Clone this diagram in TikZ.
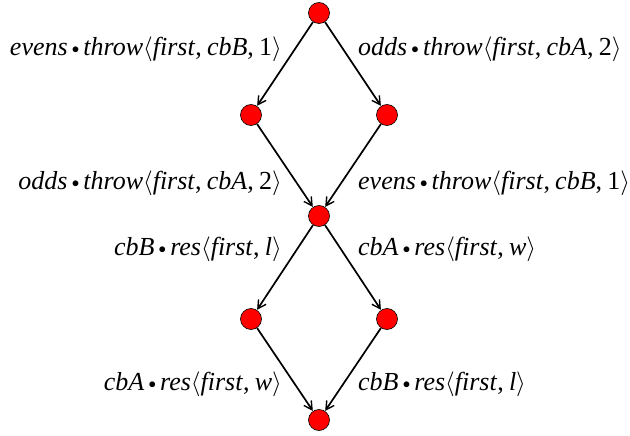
\documentclass[tikz,border=0pt]{standalone}
\usepackage{fontspec}
\setmainfont{Liberation Serif}
\usetikzlibrary{arrows.meta}
\newcommand{\lbl}[1]{\textit{#1}}
\newcommand{\dotop}{\hspace{0.16em}{\raisebox{0.08em}{\scalebox{0.6}{$\bullet$}}}\hspace{0.16em}}
\newcommand{\la}{$\langle$}
\newcommand{\ra}{$\rangle$}
\newcommand{\cm}{,\hspace{0.2em}}
\begin{document}
\begin{tikzpicture}[x=1pt,y=-1pt,
  state/.style={circle,draw=black,fill=red,minimum size=21pt,inner sep=0pt,line width=0.6pt},
  edge/.style={line width=1.7pt,-{Straight Barb[length=8pt,width=9pt,line width=1.4pt]},shorten >=0.3pt},
  lab/.style={font=\fontsize{26}{29}\selectfont,inner sep=0pt}]
\useasboundingbox (0,0) rectangle (630,436);
\node[state] (t) at (319,13) {};
\node[state] (l1) at (251,115) {};
\node[state] (r1) at (387,115) {};
\node[state] (m) at (319,216) {};
\node[state] (l2) at (251,319) {};
\node[state] (r2) at (387,319) {};
\node[state] (b) at (319,420) {};
\draw[edge] (t) -- (l1);
\draw[edge] (t) -- (r1);
\draw[edge] (l1) -- (m);
\draw[edge] (r1) -- (m);
\draw[edge] (m) -- (l2);
\draw[edge] (m) -- (r2);
\draw[edge] (l2) -- (b);
\draw[edge] (r2) -- (b);
\node[lab,anchor=east] (a1) at (282,49) {\lbl{evens}\dotop\lbl{throw}\la\lbl{first}\cm\lbl{cbB}\cm1\ra};
\node[lab,anchor=west] (a2) at (358,49) {\lbl{odds}\dotop\lbl{throw}\la\lbl{first}\cm\lbl{cbA}\cm2\ra};
\node[lab,anchor=east] (a3) at (282,183) {\lbl{odds}\dotop\lbl{throw}\la\lbl{first}\cm\lbl{cbA}\cm2\ra};
\node[lab,anchor=west] (a4) at (358,183) {\lbl{evens}\dotop\lbl{throw}\la\lbl{first}\cm\lbl{cbB}\cm1\ra};
\node[lab,anchor=east] (a5) at (282,249) {\lbl{cbB}\dotop\lbl{res}\la\lbl{first}\cm\lbl{l}\ra};
\node[lab,anchor=west] (a6) at (358,249) {\lbl{cbA}\dotop\lbl{res}\la\lbl{first}\cm\lbl{w}\ra};
\node[lab,anchor=east] (a7) at (282,384) {\lbl{cbA}\dotop\lbl{res}\la\lbl{first}\cm\lbl{w}\ra};
\node[lab,anchor=west] (a8) at (358,384) {\lbl{cbB}\dotop\lbl{res}\la\lbl{first}\cm\lbl{l}\ra};
\end{tikzpicture}
\end{document}
